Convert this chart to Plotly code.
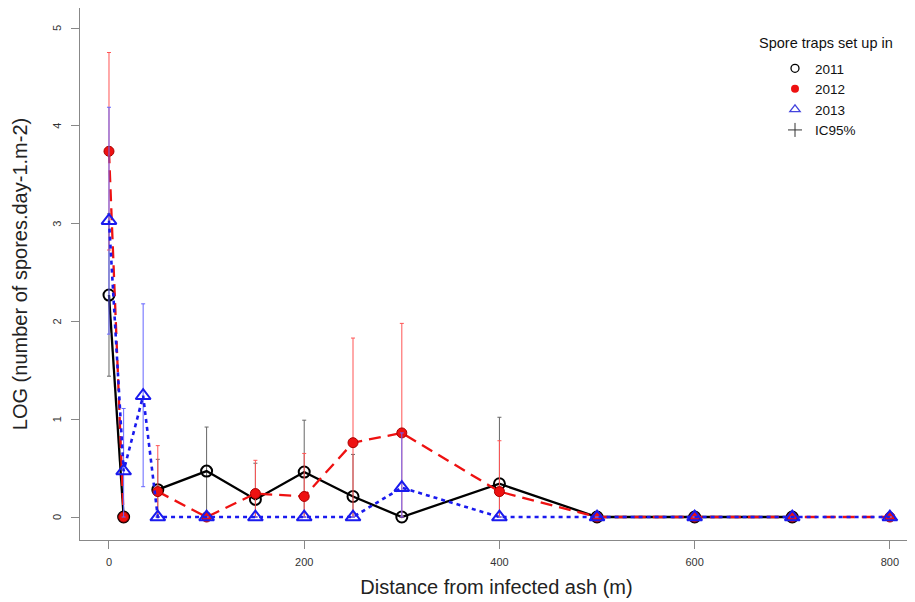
import plotly.graph_objects as go

# ---- data ----
distance = [0, 15, 35, 50, 100, 150, 200, 250, 300, 400, 500, 600, 700, 800]

y2011 = [2.27, 0, None, 0.28, 0.47, 0.18, 0.46, 0.21, 0, 0.34, 0, 0, 0, None]
hi2011 = [3.10, 0, None, 0.59, 0.92, 0.55, 0.99, 0.64, 0, 1.02, 0, 0, 0, None]
lo2011 = [1.44, 0, None, 0, 0.02, 0, 0, 0, 0, 0, 0, 0, 0, None]

y2012 = [3.74, 0, None, 0.26, 0, 0.24, 0.21, 0.76, 0.86, 0.26, 0, 0, 0, 0]
hi2012 = [4.75, 0, None, 0.73, 0, 0.58, 0.65, 1.83, 1.98, 0.78, 0, 0, 0, 0]
lo2012 = [2.73, 0, None, 0, 0, 0, 0, 0, 0, 0, 0, 0, 0, 0]

y2013 = [3.03, 0.47, 1.24, 0, 0, 0, 0, 0, 0.30, 0, 0, 0, 0, 0]
hi2013 = [4.19, 1.11, 2.18, 0, 0, 0, 0, 0, 0.86, 0, 0, 0, 0, 0]
lo2013 = [1.87, 0, 0.31, 0, 0, 0, 0, 0, 0, 0, 0, 0, 0, 0]

years = ["2011", "2012", "2013"]
x_ticks = [0, 200, 400, 600, 800]
y_ticks = [0, 1, 2, 3, 4, 5]


def errs(y, hi, lo):
    plus, minus = [], []
    for v, h, l in zip(y, hi, lo):
        if v is None or (h - v == 0 and v - l == 0):
            plus.append(None)
            minus.append(None)
        else:
            plus.append(round(h - v, 4))
            minus.append(round(v - l, 4))
    return plus, minus


FONT = "Liberation Sans, Arial, sans-serif"
fig = go.Figure()

specs = [
    (y2011, hi2011, lo2011, "black", "solid", 2.3,
     dict(symbol="circle-open", size=11, color="black", line=dict(width=2, color="black")), "#666666"),
    (y2012, hi2012, lo2012, "#ee1111", "12px,7px", 2.3,
     dict(symbol="circle", size=10, color="#ee1111", line=dict(width=1, color="#aa0000")), "#ff5555"),
    (y2013, hi2013, lo2013, "#1a1aee", "4px,4px", 2.6,
     dict(symbol="triangle-up-open", size=13, color="#1a1aee", line=dict(width=2, color="#1a1aee")), "#6666ff"),
]

for (y, hi, lo, col, dash, lw, mk, ecol) in specs:
    plus, minus = errs(y, hi, lo)
    fig.add_trace(go.Scatter(
        x=distance, y=y, mode="lines+markers", showlegend=False,
        connectgaps=False,
        line=dict(color=col, dash=dash, width=lw),
        marker=mk,
        error_y=dict(type="data", symmetric=False, array=plus, arrayminus=minus,
                     color=ecol, thickness=1, width=2),
    ))

# legend-only entries (symbols only)
leg = [
    ("2011", dict(symbol="circle-open", size=8, color="black", line=dict(width=1.3, color="black"))),
    ("2012", dict(symbol="circle", size=8, color="#ee1111")),
    ("2013", dict(symbol="triangle-up-open", size=9, color="#4444dd", line=dict(width=1.3, color="#4444dd"))),
    ("IC95%", dict(symbol="cross-thin-open", size=10, color="#333333", line=dict(width=1, color="#333333"))),
]
for name, mk in leg:
    fig.add_trace(go.Scatter(x=[None], y=[None], mode="markers", name=name, marker=mk, showlegend=True))

# the page body has an 8px margin: plot area sits at screen x 80..913, y 8..540
PX_L, PX_R, PX_T, PX_B = 80, 913, 8, 540
PW, PH = PX_R - PX_L, PX_B - PX_T


def px(xs):
    return (xs - PX_L) / PW


def py(ys):
    return 1 - (ys - PX_T) / PH


fig.add_annotation(
    text="Spore traps set up in", xref="paper", yref="paper",
    x=px(826), y=py(43), xanchor="center", yanchor="middle",
    showarrow=False, font=dict(size=14.5, color="#111111", family=FONT),
)

# rotated y tick labels (R style)
for v in y_ticks:
    fig.add_annotation(
        text=str(v), xref="paper", yref="y", x=px(57), y=v,
        xanchor="center", yanchor="middle", textangle=-90, showarrow=False,
        font=dict(size=11, color="#333333", family=FONT),
    )

fig.update_layout(
    width=915, height=602,
    margin=dict(l=PX_L - 8, r=915 - (PX_R - 8), t=PX_T - 8, b=602 - (PX_B - 8), autoexpand=False),
    paper_bgcolor="white", plot_bgcolor="white",
    font=dict(family=FONT, color="#222222"),
    showlegend=True,
    legend=dict(
        x=px(775), y=py(53), xanchor="left", yanchor="top",
        font=dict(size=13.5, color="#111111"),
        bgcolor="rgba(0,0,0,0)", itemwidth=30, tracegroupgap=0,
    ),
    xaxis=dict(
        range=[-29.7, 823.7], tickvals=x_ticks, ticktext=[str(v) for v in x_ticks],
        showgrid=False, zeroline=False, showline=True, mirror=True,
        linecolor="#888888", linewidth=1, automargin=False,
        ticks="outside", ticklen=8, tickcolor="#888888", ticklabelstandoff=4,
        tickfont=dict(size=11, color="#333333"),
        title=dict(text="Distance from infected ash (m)", font=dict(size=20, color="#222222"), standoff=12),
    ),
    yaxis=dict(
        range=[-0.235, 5.205], tickvals=y_ticks, showticklabels=False,
        showgrid=False, zeroline=False, showline=True, mirror=True,
        linecolor="#888888", linewidth=1, automargin=False,
        ticks="outside", ticklen=8, tickcolor="#888888",
        title=dict(text="LOG (number of spores.day-1.m-2)", font=dict(size=20, color="#222222"), standoff=38),
    ),
)

fig.write_html("out.html")
